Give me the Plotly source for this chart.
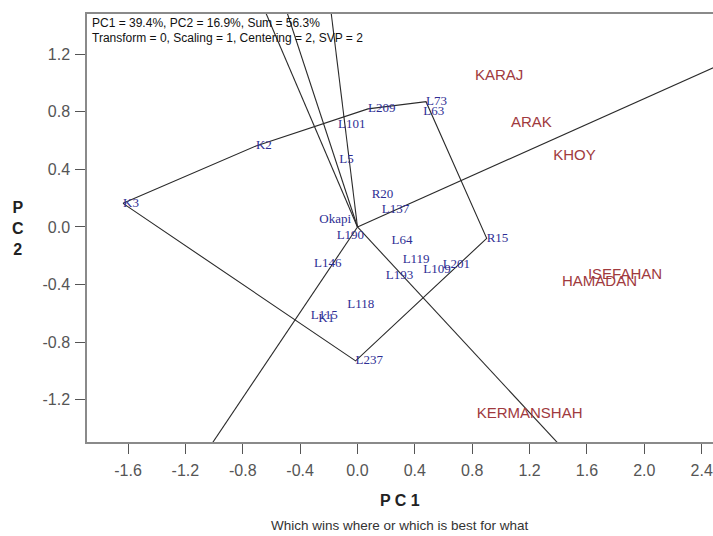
import numpy as np
import plotly.graph_objects as go

# Genotype scores (PC1, PC2)
genotypes = ["K3", "K2", "L209", "L73", "L63", "L101", "L5", "R20", "L137",
             "Okapi", "L190", "L64", "R15", "L119", "L201", "L109", "L193",
             "L146", "L118", "L115", "K1", "L237"]
g_pc1 = [-1.635, -0.708, 0.073, 0.478, 0.459, -0.136, -0.127, 0.099, 0.169,
         -0.266, -0.145, 0.238, 0.901, 0.315, 0.594, 0.459, 0.197,
         -0.303, -0.071, -0.326, -0.273, -0.013]
g_pc2 = [0.164, 0.5625, 0.82, 0.870, 0.80, 0.708, 0.465, 0.222, 0.123,
         0.049, -0.06, -0.095, -0.079, -0.229, -0.259, -0.299, -0.340,
         -0.252, -0.537, -0.618, -0.634, -0.93]

# Environment scores (PC1, PC2)
environments = ["KARAJ", "ARAK", "KHOY", "ISEFAHAN", "HAMADAN", "KERMANSHAH"]
e_pc1 = [0.819, 1.070, 1.365, 1.607, 1.426, 0.831]
e_pc2 = [1.044, 0.720, 0.488, -0.337, -0.385, -1.299]

# Vertex genotypes of the which-won-where polygon, in order
hull = ["K3", "K2", "L209", "L73", "R15", "L237"]

x_tick_vals = [-1.6, -1.2, -0.8, -0.4, 0.0, 0.4, 0.8, 1.2, 1.6, 2.0, 2.4]
x_tick_text = ["-1.6", "-1.2", "-0.8", "-0.4", "0.0", "0.4", "0.8", "1.2", "1.6", "2.0", "2.4"]
y_tick_vals = [-1.2, -0.8, -0.4, 0.0, 0.4, 0.8, 1.2]
y_tick_text = ["-1.2", "-0.8", "-0.4", "0.0", "0.4", "0.8", "1.2"]

header_lines = ["PC1 = 39.4%, PC2 = 16.9%, Sum = 56.3%",
                "Transform = 0, Scaling = 1, Centering = 2, SVP = 2"]

pos = {g: np.array([x, y]) for g, x, y in zip(genotypes, g_pc1, g_pc2)}

fig = go.Figure()

# Polygon joining the outermost genotypes
px = [pos[g][0] for g in hull] + [pos[hull[0]][0]]
py = [pos[g][1] for g in hull] + [pos[hull[0]][1]]
fig.add_trace(go.Scatter(x=px, y=py, mode="lines",
                         line=dict(color="#2a2a2a", width=1.1),
                         hoverinfo="skip", showlegend=False))

# Rays from the origin perpendicular to each polygon side
for i in range(len(hull)):
    a = pos[hull[i]]
    b = pos[hull[(i + 1) % len(hull)]]
    d = b - a
    n = np.array([-d[1], d[0]])
    if np.dot(n, a) < 0:
        n = -n
    n = n / np.linalg.norm(n) * 6.0
    fig.add_trace(go.Scatter(x=[0, n[0]], y=[0, n[1]], mode="lines",
                             line=dict(color="#2a2a2a", width=1.1),
                             hoverinfo="skip", showlegend=False))

# Genotype labels
fig.add_trace(go.Scatter(x=g_pc1, y=g_pc2, text=genotypes, mode="text",
                         textposition="middle right",
                         textfont=dict(family="Liberation Serif", size=13, color="#2e2e94"),
                         showlegend=False, cliponaxis=False))

# Environment labels
fig.add_trace(go.Scatter(x=e_pc1, y=e_pc2, text=environments, mode="text",
                         textposition="middle right",
                         textfont=dict(family="Liberation Sans", size=15, color="#a03a3e"),
                         showlegend=False, cliponaxis=False))

annotations = []
for k, line in enumerate(header_lines):
    annotations.append(dict(text=line, xref="paper", yref="paper",
                            x=0.004, y=0.978 - k * 0.0335, xanchor="left", yanchor="middle",
                            showarrow=False,
                            font=dict(family="Liberation Sans", size=12, color="#111111")))
annotations.append(dict(text="<b>P C 1</b>", xref="paper", yref="paper",
                        x=0.5, y=-0.137, xanchor="center", yanchor="middle", showarrow=False,
                        font=dict(family="Liberation Sans", size=16, color="#222222")))
annotations.append(dict(text="Which wins where or which is best for what", xref="paper", yref="paper",
                        x=0.5, y=-0.195, xanchor="center", yanchor="middle", showarrow=False,
                        font=dict(family="Liberation Sans", size=13.5, color="#333333")))
annotations.append(dict(text="<b>P<br>C<br>2</b>", xref="paper", yref="paper",
                        x=-0.11, y=0.5, xanchor="center", yanchor="middle", showarrow=False,
                        align="center",
                        font=dict(family="Liberation Sans", size=16, color="#222222")))

fig.update_layout(
    width=713, height=536,
    margin=dict(l=87, r=0, t=14, b=94),
    paper_bgcolor="white", plot_bgcolor="white",
    annotations=annotations,
    xaxis=dict(range=[-1.886, 2.479], tickvals=x_tick_vals, ticktext=x_tick_text,
               showgrid=False, zeroline=False, showline=True, linecolor="#8a8a8a",
               linewidth=1.5, mirror=True, ticks="outside", ticklen=10, tickcolor="#555555",
               ticklabelstandoff=3, ticklabeloverflow="allow",
               tickfont=dict(family="Liberation Sans", size=16, color="#555555")),
    yaxis=dict(range=[-1.493, 1.479], tickvals=y_tick_vals, ticktext=y_tick_text,
               showgrid=False, zeroline=False, showline=True, linecolor="#8a8a8a",
               linewidth=1.5, ticks="outside", ticklen=10, tickcolor="#555555",
               ticklabelstandoff=2,
               tickfont=dict(family="Liberation Sans", size=16, color="#555555")),
)

fig.write_html("out.html")
